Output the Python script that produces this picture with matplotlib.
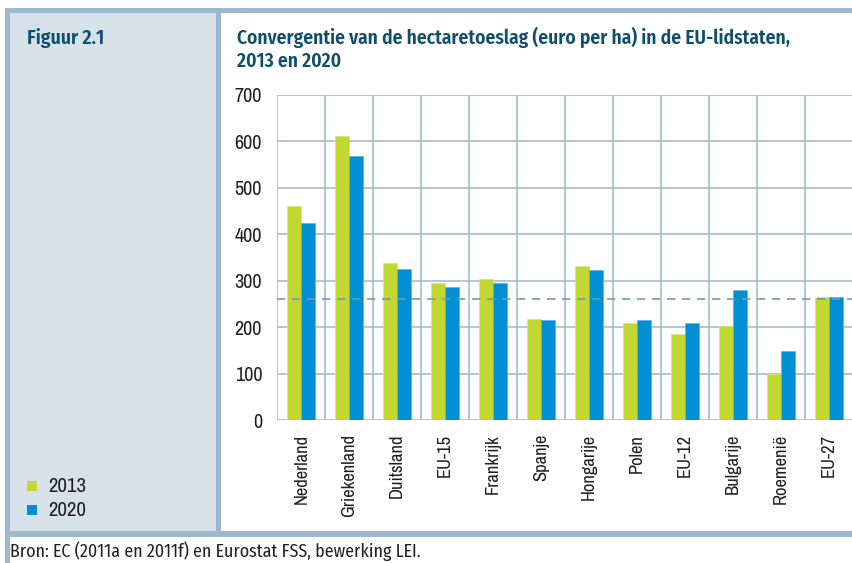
import matplotlib
matplotlib.use("Agg")
import matplotlib.pyplot as plt
from matplotlib.patches import Rectangle
import numpy as np

landen = ["Nederland", "Griekenland", "Duitsland", "EU-15", "Frankrijk", "Spanje",
          "Hongarije", "Polen", "EU-12", "Bulgarije", "Roemenië", "EU-27"]
waarde_2013 = [462, 612, 338, 296, 304, 217, 331, 210, 185, 203, 99, 265]
waarde_2020 = [424, 568, 325, 286, 296, 215, 324, 215, 210, 280, 149, 265]
gemiddelde = 261

groen = "#c2d72f"
blauw = "#008fd3"
rand = "#9bb8cc"
paneel = "#d6e1ea"
titelkleur = "#0d4f6d"
raster = "#a3bccf"
tekst = "#231f20"

W, H = 853, 563
fig = plt.figure(figsize=(W / 100, H / 100), dpi=100)

def blok(x, y, w, h, kleur):
    # rechthoek in pixels, y van boven
    fig.add_artist(Rectangle((x / W, 1 - (y + h) / H), w / W, h / H,
                             transform=fig.transFigure, color=kleur, lw=0, zorder=0))

blok(10, 13, 206, 518, paneel)
blok(5, 8, 848, 5, rand)
blok(5, 8, 5, 555, rand)
blok(216, 13, 5, 519, rand)
blok(5, 531, 848, 6, rand)

smal = ["Archivo Narrow", "DejaVu Sans"]
vet = ["Fira Sans Condensed", "DejaVu Sans"]

fig.text(27 / W, 1 - 44 / H, "Figuur 2.1", family=vet, weight="semibold", fontsize=14.3,
         color=titelkleur, va="baseline")
fig.text(237 / W, 1 - 44 / H, "Convergentie van de hectaretoeslag (euro per ha) in de EU-lidstaten,",
         family=vet, weight="semibold", fontsize=14, color=titelkleur, va="baseline")
fig.text(237 / W, 1 - 67 / H, "2013 en 2020", family=vet, weight="semibold", fontsize=14,
         color=titelkleur, va="baseline")

x0, x1 = 277.3, 853
ax = fig.add_axes([x0 / W, 1 - 420 / H, (x1 - x0) / W, 325 / H])
ax.set_facecolor("none")
x = np.arange(len(landen))
bw = 0.29
ax.bar(x - bw / 2, waarde_2013, bw, color=groen, edgecolor="#d6e67a", lw=0.5, zorder=3)
ax.bar(x + bw / 2, waarde_2020, bw, color=blauw, edgecolor="#5ab3e0", lw=0.5, zorder=3)
ax.axhline(gemiddelde, color="#6f9bb8", lw=1.2, ls=(0, (5, 4)), zorder=4)

ax.set_ylim(0, 700)
ax.set_xlim(-0.5, -0.5 + (x1 - x0) / 48.7)
ax.set_yticks(range(0, 701, 100))
ax.set_xticks(x)
ax.set_xticklabels(landen, rotation=90, family=smal, fontsize=13.4, color=tekst)
ax.set_xticks(np.arange(len(landen) + 1) - 0.5, minor=True)
for lbl in ax.get_yticklabels():
    lbl.set_family(smal)
ax.tick_params(axis="y", length=0, pad=11, labelsize=14.5, labelcolor=tekst)
ax.tick_params(axis="x", which="both", length=0, pad=10)
ax.grid(axis="y", which="major", color=raster, lw=1.2, zorder=0)
ax.grid(axis="x", which="minor", color=raster, lw=1.2, zorder=0)
ax.grid(axis="x", which="major", visible=False)
for s in ax.spines.values():
    s.set_visible(False)

# legenda
for i, (jaar, kleur) in enumerate([("2013", groen), ("2020", blauw)]):
    blok(27, 481 + 24 * i, 10, 10, kleur)
    fig.text(48 / W, 1 - (486 + 24 * i) / H, jaar, family=smal, fontsize=15,
             color=tekst, va="center")

fig.text(10 / W, 1 - 551 / H, "Bron: EC (2011a en 2011f) en Eurostat FSS, bewerking LEI.",
         family=["Fira Sans Condensed", "DejaVu Sans"], fontsize=12.9, color=tekst, va="center")

fig.savefig("out.png", dpi=100)
